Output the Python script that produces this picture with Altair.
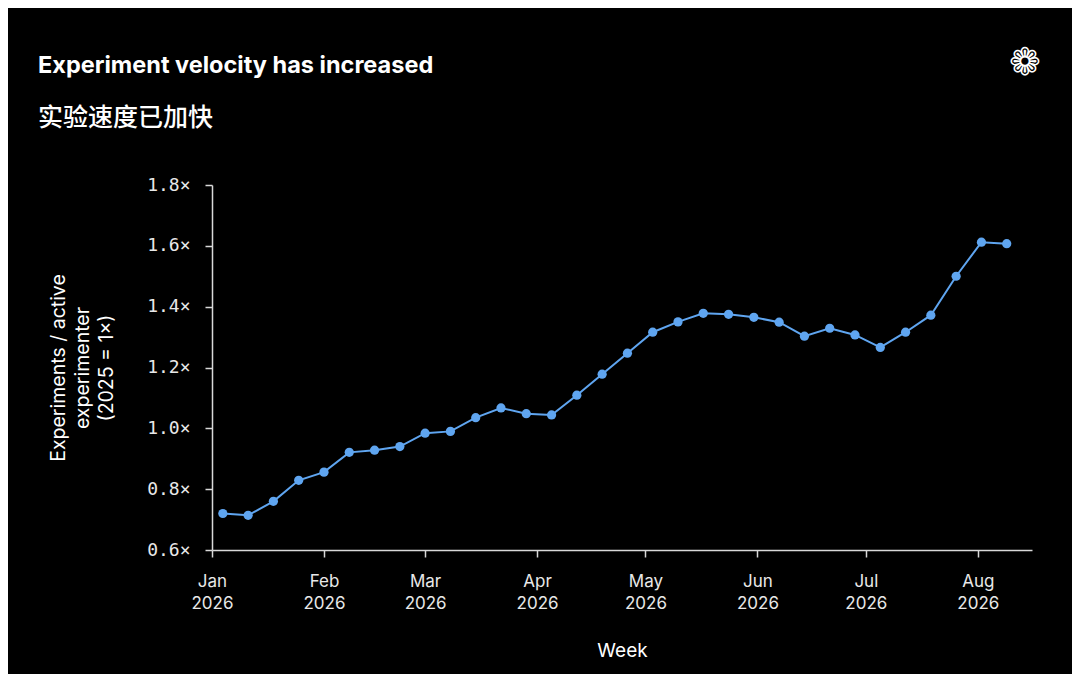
import altair as alt
import pandas as pd

weeks = ["2026-01-04", "2026-01-11", "2026-01-18", "2026-01-25", "2026-02-01", "2026-02-08",
         "2026-02-15", "2026-02-22", "2026-03-01", "2026-03-08", "2026-03-15", "2026-03-22",
         "2026-03-29", "2026-04-05", "2026-04-12", "2026-04-19", "2026-04-26", "2026-05-03",
         "2026-05-10", "2026-05-17", "2026-05-24", "2026-05-31", "2026-06-07", "2026-06-14",
         "2026-06-21", "2026-06-28", "2026-07-05", "2026-07-12", "2026-07-19", "2026-07-26",
         "2026-08-02", "2026-08-09"]
velocity = [0.720, 0.714, 0.760, 0.829, 0.856, 0.921, 0.928, 0.940, 0.984, 0.990, 1.035, 1.067,
            1.048, 1.044, 1.109, 1.178, 1.247, 1.316, 1.350, 1.378, 1.375, 1.365, 1.349, 1.303,
            1.329, 1.307, 1.266, 1.316, 1.372, 1.500, 1.612, 1.607]
y_ticks = [0.6, 0.8, 1.0, 1.2, 1.4, 1.6, 1.8]
month_ticks = [1, 2, 3, 4, 5, 6, 7, 8]

title_text = "Experiment velocity has increased"
subtitle_text = "实验速度已加快"
y_title = ["Experiments / active", "experimenter", "(2025 = 1×)"]
x_title = "Week"
logo_glyph = "❁"

df = pd.DataFrame({"week": weeks, "value": velocity})

BLUE = "#5fa5f0"
AXIS = "#d9d9d9"

x_enc = alt.X(
    "week:T",
    scale=alt.Scale(type="utc",
                    domain=[alt.DateTime(year=2026, month=1, date=1, utc=True),
                            alt.DateTime(year=2026, month=8, date=16, utc=True)]),
    axis=alt.Axis(
        values=[alt.DateTime(year=2026, month=m, date=1, utc=True) for m in month_ticks],
        labelExpr="[utcFormat(datum.value, '%b'), utcFormat(datum.value, '%Y')]",
        labelFlush=False,
        title=x_title,
        grid=False,
    ),
)
y_enc = alt.Y(
    "value:Q",
    scale=alt.Scale(domain=[0.6, 1.8], nice=False, zero=False),
    axis=alt.Axis(values=y_ticks,
                  labelExpr="format(datum.value, '.1f') + '×'",
                  title=y_title, grid=False),
)

line = alt.Chart(df).mark_line(color=BLUE, strokeWidth=2).encode(x=x_enc, y=y_enc)
pts = alt.Chart(df).mark_point(filled=True, color=BLUE, size=85, opacity=1).encode(x=x_enc, y=y_enc)

logo = alt.Chart(pd.DataFrame({"t": [logo_glyph]})).mark_text(
    fontSize=38, color="white", font="DejaVu Sans", align="center", baseline="middle"
).encode(text="t:N", x=alt.value(813), y=alt.value(-121))

title_mark = alt.Chart(pd.DataFrame({"t": [title_text]})).mark_text(
    fontSize=23.5, color="white", font="Inter", fontWeight="bold", align="left", baseline="alphabetic"
).encode(text="t:N", x=alt.value(-174), y=alt.value(-112))

subtitle_mark = alt.Chart(pd.DataFrame({"t": [subtitle_text]})).mark_text(
    fontSize=25, color="white", font="Noto Sans CJK SC", fontWeight=500, align="left", baseline="alphabetic"
).encode(text="t:N", x=alt.value(-174), y=alt.value(-59))

chart = alt.layer(line, pts, logo, title_mark, subtitle_mark).properties(
    width=820,
    height=365,
    background="black",
    autosize=alt.AutoSizeParams(type="none"),
    padding={"left": 204, "top": 177, "right": 40, "bottom": 124},
).configure_view(stroke=None).configure_axis(
    domainColor=AXIS,
    tickColor=AXIS,
    tickSize=7,
    domainWidth=1.5,
    tickWidth=1.5,
    labelColor="#e8e8e8",
    titleColor="white",
    titleFontWeight="normal",
).configure_axisY(
    labelFont="DejaVu Sans Mono",
    labelFontSize=18,
    labelPadding=15,
    titleFont="Inter",
    titleFontSize=19.5,
    titleLineHeight=24,
    titlePadding=30,
).configure_axisX(
    labelFont="Inter",
    labelFontSize=17,
    labelLineHeight=22,
    labelPadding=16,
    titleFont="Inter",
    titleFontSize=19,
    titlePadding=30,
)

chart.save("out.html", embed_options={"renderer": "svg", "actions": False})
